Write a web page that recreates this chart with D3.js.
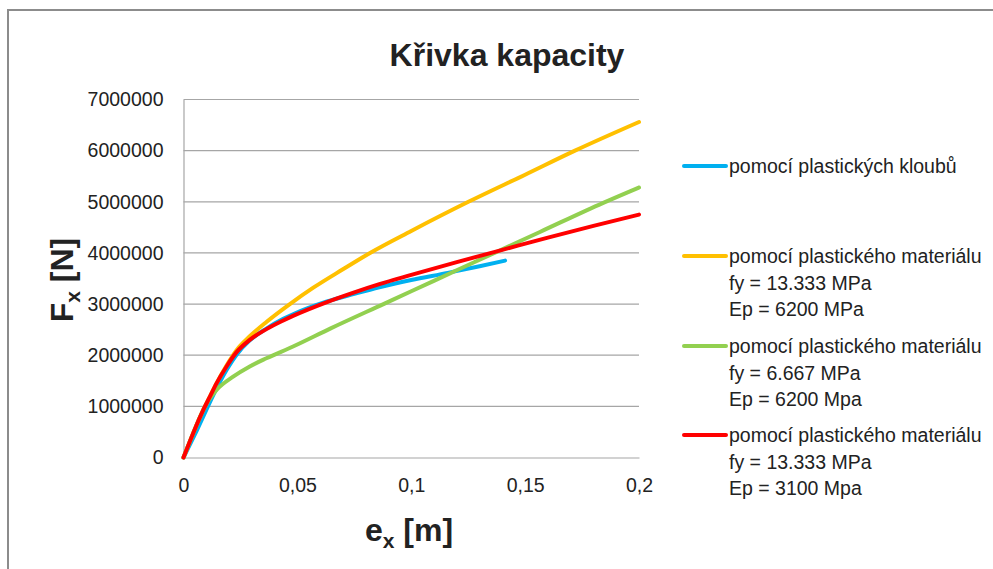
<!DOCTYPE html>
<html>
<head>
<meta charset="utf-8">
<script src="https://cdn.jsdelivr.net/npm/d3@7"></script>
<style>
  html, body { margin: 0; padding: 0; background: #fff; }
  svg { display: block; }
  text { font-family: "Liberation Sans", Arial, sans-serif; fill: #222; }
</style>
</head>
<body>
<svg id="chart" width="993" height="569"></svg>
<script>
// Capacity curves: displacement e_x [m] vs. force F_x [N]
const ex_klouby = [0, 0.005, 0.0145, 0.0189, 0.0233, 0.0291, 0.0364, 0.0438, 0.0481, 0.063, 0.075, 0.086, 0.100, 0.116, 0.130, 0.1412];
const fx_klouby = [0, 450000, 1350000, 1710000, 2010000, 2290000, 2520000, 2710000, 2800000, 3050000, 3200000, 3330000, 3470000, 3610000, 3740000, 3850000];

const ex_mat1 = [0, 0.0043, 0.0087, 0.0116, 0.0145, 0.0189, 0.0233, 0.0291, 0.0364, 0.0467, 0.057, 0.070, 0.0819, 0.100, 0.1251, 0.150, 0.1719, 0.200];
const fx_mat1 = [0, 480000, 930000, 1190000, 1450000, 1800000, 2100000, 2370000, 2650000, 3000000, 3320000, 3680000, 4000000, 4430000, 5000000, 5530000, 6000000, 6560000];

const ex_mat2 = [0, 0.0043, 0.0087, 0.0108, 0.0145, 0.0218, 0.0291, 0.0364, 0.0481, 0.0644, 0.0878, 0.100, 0.1214, 0.1346, 0.1565, 0.1843, 0.200];
const fx_mat2 = [0, 480000, 930000, 1100000, 1320000, 1580000, 1780000, 1940000, 2170000, 2520000, 3000000, 3250000, 3690000, 3960000, 4410000, 4980000, 5280000];

const ex_mat3 = [0, 0.0043, 0.0087, 0.0116, 0.0145, 0.0189, 0.0233, 0.0291, 0.0364, 0.0438, 0.0481, 0.063, 0.075, 0.086, 0.100, 0.120, 0.140, 0.160, 0.180, 0.200];
const fx_mat3 = [0, 480000, 930000, 1190000, 1450000, 1780000, 2060000, 2300000, 2510000, 2680000, 2770000, 3040000, 3230000, 3390000, 3570000, 3820000, 4060000, 4300000, 4530000, 4750000];

const seriesNames = [
  ["pomocí plastických kloubů"],
  ["pomocí plastického materiálu", "fy = 13.333 MPa", "Ep = 6200 MPa"],
  ["pomocí plastického materiálu", "fy = 6.667 MPa", "Ep = 6200 Mpa"],
  ["pomocí plastického materiálu", "fy = 13.333 MPa", "Ep = 3100 Mpa"]
];
const seriesColors = ["#00b0f0", "#ffc000", "#92d050", "#ff0000"];

const yTicks = [0, 1000000, 2000000, 3000000, 4000000, 5000000, 6000000, 7000000];
const xTicks = [0, 0.05, 0.1, 0.15, 0.2];
const xTickLabels = ["0", "0,05", "0,1", "0,15", "0,2"];

const series = [
  ex_klouby.map((e, i) => [e, fx_klouby[i]]),
  ex_mat1.map((e, i) => [e, fx_mat1[i]]),
  ex_mat2.map((e, i) => [e, fx_mat2[i]]),
  ex_mat3.map((e, i) => [e, fx_mat3[i]])
];

const svg = d3.select("#chart");

// chart frame
svg.append("rect")
  .attr("x", 8).attr("y", 10)
  .attr("width", 1000).attr("height", 600)
  .attr("fill", "#fff")
  .attr("stroke", "#8c8c8c")
  .attr("stroke-width", 2);

const plot = { left: 183.5, right: 639, top: 99.5, bottom: 457.5 };

const x = d3.scaleLinear().domain([0, 0.2]).range([plot.left, plot.right]);
const y = d3.scaleLinear().domain([0, 7000000]).range([plot.bottom, plot.top]);

// horizontal gridlines
svg.append("g")
  .selectAll("line")
  .data(yTicks.slice(1))
  .join("line")
  .attr("x1", plot.left).attr("x2", plot.right)
  .attr("y1", d => y(d)).attr("y2", d => y(d))
  .attr("stroke", "#a6a6a6")
  .attr("stroke-width", 1.2);

// y axis
const yAxis = svg.append("g")
  .attr("transform", `translate(${plot.left},0)`)
  .call(d3.axisLeft(y).tickValues(yTicks).tickSize(0).tickPadding(20).tickFormat(d3.format("d")));
yAxis.select(".domain").attr("stroke", "#a6a6a6").attr("stroke-width", 1.2);
yAxis.selectAll("text")
  .attr("font-size", 19.5)
  .attr("fill", "#222")
  .style("font-family", "'Liberation Sans', Arial, sans-serif");

// x axis
const xAxis = svg.append("g")
  .attr("transform", `translate(0,${plot.bottom})`)
  .call(d3.axisBottom(x).tickValues(xTicks).tickSize(0).tickPadding(21)
    .tickFormat((d, i) => xTickLabels[i]));
xAxis.select(".domain").attr("stroke", "#a6a6a6").attr("stroke-width", 1.2);
xAxis.selectAll("text")
  .attr("font-size", 19.5)
  .attr("fill", "#222")
  .style("font-family", "'Liberation Sans', Arial, sans-serif");

// curves
const line = d3.line()
  .x(d => x(d[0]))
  .y(d => y(d[1]))
  .curve(d3.curveMonotoneX);

svg.append("g")
  .selectAll("path")
  .data(series)
  .join("path")
  .attr("d", line)
  .attr("fill", "none")
  .attr("stroke", (d, i) => seriesColors[i])
  .attr("stroke-width", 4)
  .attr("stroke-linejoin", "round")
  .attr("stroke-linecap", "round");

// title
svg.append("text")
  .attr("x", 507).attr("y", 66)
  .attr("text-anchor", "middle")
  .attr("font-size", 32)
  .attr("font-weight", "bold")
  .attr("fill", "#000")
  .text("Křivka kapacity");

// x axis title
const xt = svg.append("text")
  .attr("x", 409).attr("y", 541)
  .attr("text-anchor", "middle")
  .attr("font-size", 32)
  .attr("font-weight", "bold")
  .attr("fill", "#000");
xt.append("tspan").text("e");
xt.append("tspan").attr("font-size", 21).attr("dy", 7).text("x");
xt.append("tspan").attr("dy", -7).text(" [m]");

// y axis title
const yt = svg.append("text")
  .attr("transform", "translate(73,280) rotate(-90)")
  .attr("text-anchor", "middle")
  .attr("font-size", 32)
  .attr("font-weight", "bold")
  .attr("fill", "#000");
yt.append("tspan").text("F");
yt.append("tspan").attr("font-size", 21).attr("dy", 7).text("x");
yt.append("tspan").attr("dy", -7).text(" [N]");

// legend
const legendY = [166, 256, 346, 435];
const legend = svg.append("g");
seriesNames.forEach((lines, i) => {
  legend.append("line")
    .attr("x1", 684).attr("x2", 726)
    .attr("y1", legendY[i]).attr("y2", legendY[i])
    .attr("stroke", seriesColors[i])
    .attr("stroke-width", 4)
    .attr("stroke-linecap", "round");
  lines.forEach((t, j) => {
    legend.append("text")
      .attr("x", 729)
      .attr("y", legendY[i] + j * 26.5 + 7)
      .attr("font-size", 19.5)
      .attr("fill", "#222")
      .text(t);
  });
});
</script>
</body>
</html>
